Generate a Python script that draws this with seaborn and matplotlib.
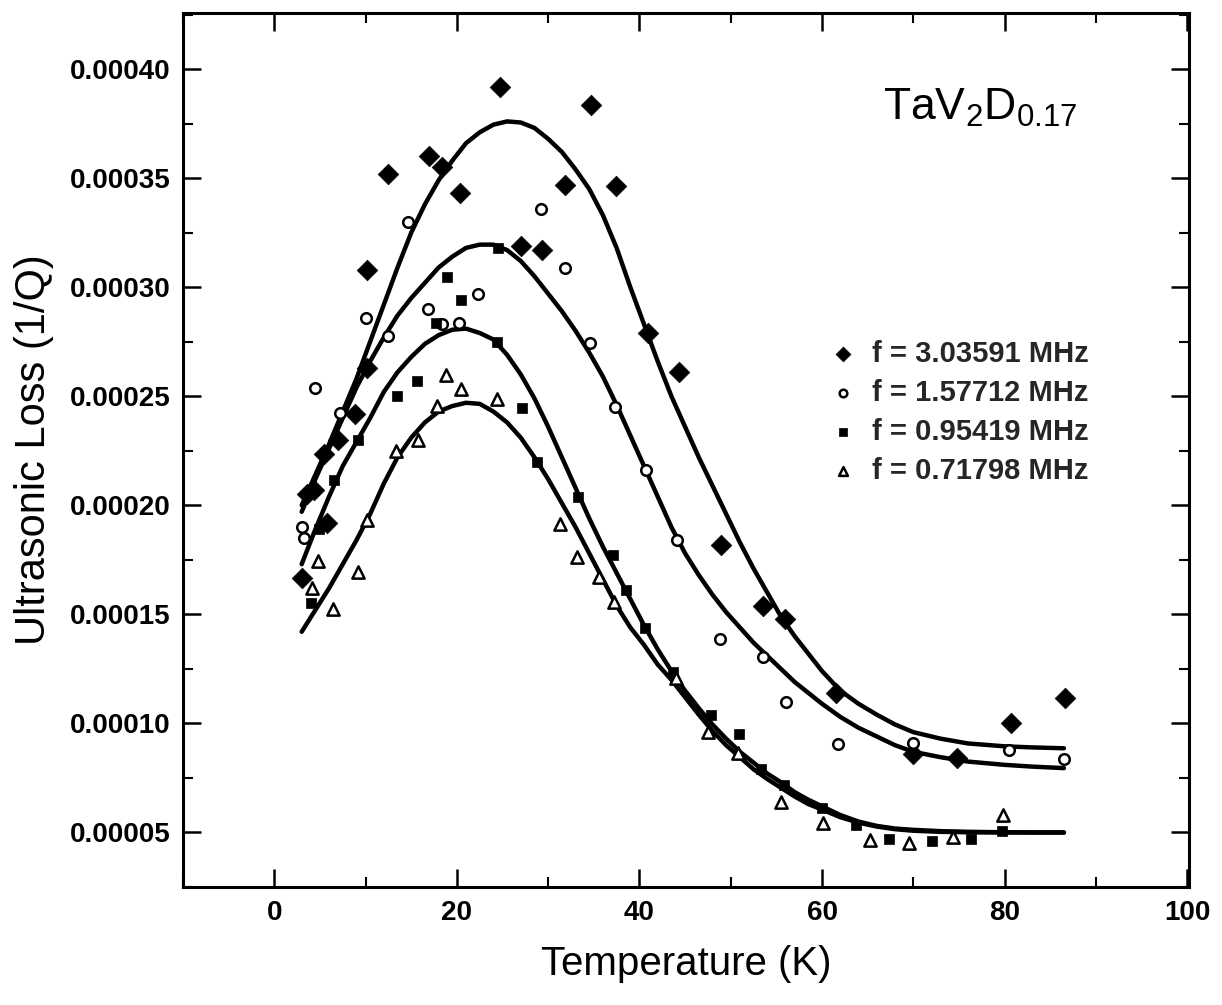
import numpy as np
import pandas as pd
import matplotlib
matplotlib.use("Agg")
import matplotlib.pyplot as plt
import seaborn as sns
from matplotlib import font_manager
from matplotlib.ticker import MultipleLocator, FormatStrFormatter

# ---------------- data ----------------
series_labels = ["f = 3.03591 MHz", "f = 1.57712 MHz", "f = 0.95419 MHz", "f = 0.71798 MHz"]

T_diamond = [3.0, 3.6, 4.4, 5.8, 5.5, 7.0, 8.8, 10.2, 10.2, 12.5, 16.9, 18.4, 20.3, 24.7, 27.0,
             29.3, 31.8, 34.7, 37.4, 40.9, 44.3, 48.9, 53.5, 55.9, 61.5, 70.0, 74.8, 80.7, 86.6]
Q_diamond = [0.0001665, 0.000205, 0.000207, 0.000192, 0.0002235, 0.000230, 0.000242, 0.000263,
             0.000308, 0.000352, 0.000360, 0.000355, 0.000343, 0.000392, 0.000319, 0.000317,
             0.000347, 0.0003835, 0.0003465, 0.000279, 0.000261, 0.000182, 0.0001536, 0.000148,
             0.000114, 0.000086, 0.0000843, 0.000100, 0.0001117]

T_circle = [3.0, 3.2, 4.5, 7.2, 10.1, 12.5, 14.7, 16.8, 18.4, 20.2, 22.3, 29.2, 31.9, 34.6, 37.3,
            40.7, 44.1, 48.8, 53.5, 56.0, 61.7, 70.0, 80.5, 86.5]
Q_circle = [0.000190, 0.000185, 0.0002536, 0.0002424, 0.000286, 0.0002776, 0.000330, 0.000290,
            0.0002831, 0.0002834, 0.0002967, 0.0003358, 0.000309, 0.0002742, 0.0002452, 0.0002161,
            0.000184, 0.0001385, 0.0001305, 0.000110, 0.0000905, 0.0000912, 0.0000878, 0.0000835]

T_square = [4.0, 4.9, 6.5, 9.2, 13.4, 15.6, 17.7, 18.9, 20.5, 24.5, 24.4, 27.1, 28.8, 33.3, 37.1,
            38.5, 40.6, 43.7, 47.8, 50.9, 53.3, 55.8, 60.0, 63.7, 67.3, 72.1, 76.3, 79.7]
Q_square = [0.0001553, 0.000189, 0.0002116, 0.000230, 0.000250, 0.0002571, 0.0002834, 0.0003046,
            0.0002941, 0.000318, 0.000275, 0.0002444, 0.000220, 0.000204, 0.000177, 0.000161,
            0.0001436, 0.0001236, 0.0001038, 0.000095, 0.0000791, 0.0000718, 0.0000611, 0.0000535,
            0.000047, 0.0000462, 0.000047, 0.0000505]

T_triangle = [4.1, 4.8, 6.4, 9.2, 10.2, 13.3, 15.7, 17.8, 18.8, 20.5, 24.4, 31.3, 33.2, 35.6, 37.2,
              44.0, 47.5, 50.8, 55.5, 60.1, 65.3, 69.5, 74.3, 79.8]
Q_triangle = [0.0001619, 0.0001746, 0.0001523, 0.0001695, 0.0001932, 0.000225, 0.000230, 0.0002455,
              0.0002597, 0.0002531, 0.0002487, 0.0001914, 0.0001764, 0.0001669, 0.0001558, 0.000121,
              0.000096, 0.0000866, 0.0000639, 0.0000543, 0.0000466, 0.0000454, 0.0000479, 0.0000581]

# fitted curves (values in units of 1e-6)
fit_T = [3, 4.5, 6, 7.5, 9, 10.5, 12, 13.5, 15, 16.5, 18, 19.5, 21, 22.5, 24, 25.5, 27, 28.5, 30,
         31.5, 33, 34.5, 36, 37.5, 39, 40.5, 42, 43.5, 45, 46.5, 48, 49.5, 51, 52.5, 54, 55.5, 57,
         58.5, 60, 62, 64, 66, 68, 70, 73, 76, 80, 83, 86.5]
fit_1 = [200, 214, 228, 243, 258, 275, 292, 309, 325, 338, 349, 358, 366, 371, 374.5, 376, 375.5,
         373, 368, 362, 354, 345, 333, 318, 300, 283, 266, 250, 236, 222, 209, 196, 183, 171, 160,
         149, 140, 132, 124, 115, 109, 104, 99.5, 96, 93, 90.8, 89.5, 89, 88.6]
fit_2 = [197, 212, 226, 240, 254, 266, 277, 287, 295, 302, 309, 314, 318, 319.5, 319.5, 317, 312,
         305, 297, 289, 280, 270, 259, 246, 232, 218, 204, 190, 178, 168, 159, 151, 144, 137, 131,
         125, 119, 114, 109, 103, 98, 94, 90, 87, 84.5, 82.5, 81, 80.2, 79.5]
fit_3 = [173, 189, 204, 218, 229, 240, 252, 261, 268, 274, 278, 280.5, 281, 279, 276, 269, 260,
         249, 236, 222, 208, 194, 181, 169, 157, 145, 134, 124, 115, 107, 99.5, 93, 87, 82, 77,
         73, 68.5, 65, 62, 58, 55, 53, 51.8, 51.2, 50.6, 50.3, 50.1, 50, 50]
fit_4 = [142, 152, 162, 173, 184, 196, 210, 222, 231, 238, 243, 245.5, 247, 246.5, 243, 238, 231,
         222, 212, 201, 190, 178, 166, 154, 144, 136, 127, 120, 112, 104, 96.5, 90, 84.5, 79,
         74.5, 70.5, 66.5, 63, 60.5, 57, 54.5, 52.7, 51.5, 50.8, 50.3, 50.1, 50, 50, 50]
fit_scale = 1e-6

x_ticks = [0, 20, 40, 60, 80, 100]
# ---------------------------------------

sns.set_theme(style="ticks")
names = {f.name for f in font_manager.fontManager.ttflist}
base_font = "Liberation Sans" if "Liberation Sans" in names else "DejaVu Sans"
plt.rcParams["font.family"] = [base_font, "DejaVu Sans"]
plt.rcParams["mathtext.default"] = "regular"

fig = plt.figure(figsize=(12.22, 10.05), dpi=100)
fig.patch.set_facecolor("white")
W, H = 1222, 1005
L, R, T, B = 183, 1189, 13, 887
ax = fig.add_axes([L / W, 1 - B / H, (R - L) / W, (B - T) / H])
ax.set_facecolor("white")

# fit curves
for fy in (fit_1, fit_2, fit_3, fit_4):
    sns.lineplot(x=fit_T, y=[v * fit_scale for v in fy], color="black", linewidth=3.2,
                 ax=ax, legend=False)

# data points
sns.scatterplot(x=T_diamond, y=Q_diamond, marker="D", s=110, color="black", edgecolor="black",
                linewidth=0.5, ax=ax, label=series_labels[0], zorder=3)
sns.scatterplot(x=T_circle, y=Q_circle, marker="o", s=58, facecolor="white", edgecolor="black",
                linewidth=1.8, ax=ax, label=series_labels[1], zorder=3)
sns.scatterplot(x=T_square, y=Q_square, marker="s", s=58, color="black", edgecolor="black",
                linewidth=0.5, ax=ax, label=series_labels[2], zorder=3)
sns.scatterplot(x=T_triangle, y=Q_triangle, marker="^", s=78, facecolor="white", edgecolor="black",
                linewidth=1.8, ax=ax, label=series_labels[3], zorder=3)

ax.set_xlim(-10, 100.2)
ax.set_ylim(0.000025, 0.0004257)
ax.xaxis.set_minor_locator(MultipleLocator(10))
ax.set_xticks(x_ticks)
ax.yaxis.set_major_locator(MultipleLocator(0.00005))
ax.yaxis.set_minor_locator(MultipleLocator(0.000025))
ax.yaxis.set_major_formatter(FormatStrFormatter("%.5f"))

ax.tick_params(which="both", direction="in", top=True, right=True, color="black")
ax.tick_params(which="major", length=13, width=1.8, pad=9)
ax.tick_params(which="minor", length=7, width=1.5)
for lab in ax.get_xticklabels() + ax.get_yticklabels():
    lab.set_fontsize(20)
    lab.set_fontweight("bold")
    lab.set_color("black")
for sp in ax.spines.values():
    sp.set_linewidth(2.2)
    sp.set_color("black")
    sp.set_visible(True)

ax.set_xlabel("Temperature (K)", fontsize=29, color="black", labelpad=14)
ax.set_ylabel("Ultrasonic Loss (1/Q)", fontsize=30, color="black", labelpad=11)

ax.text((883 - L) / (R - L), (B - 120) / (B - T), r"TaV$_{2}$D$_{0.17}$", transform=ax.transAxes,
        fontsize=32, color="black", ha="left", va="baseline")

leg = ax.legend(loc="upper left", bbox_to_anchor=(814 / W, 1 - 325 / H), bbox_transform=fig.transFigure,
                frameon=False, markerscale=0.72, handlelength=1.0, handletextpad=0.5, labelspacing=0.38,
                borderpad=0, prop={"family": [base_font], "weight": "bold", "size": 21})

fig.savefig("out.png", dpi=100, facecolor="white")
